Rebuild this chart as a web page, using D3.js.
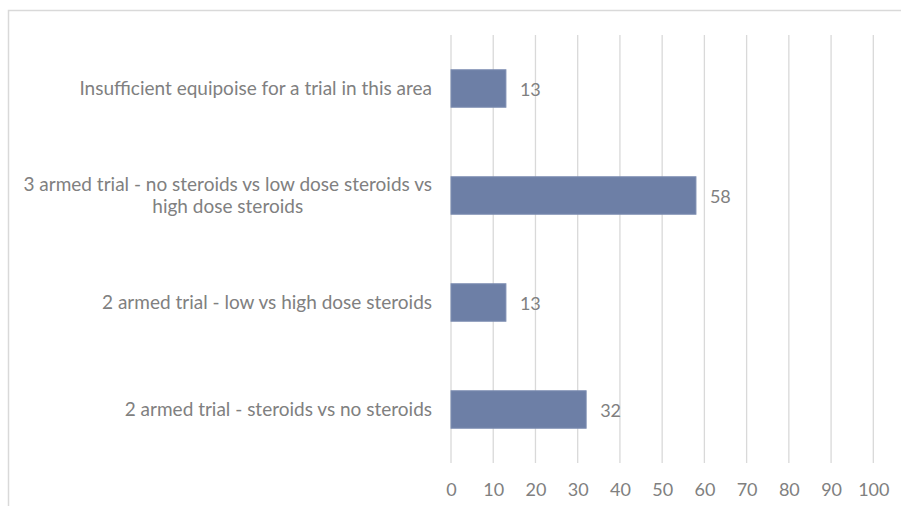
<!DOCTYPE html>
<html>
<head>
<meta charset="utf-8">
<script src="https://cdn.jsdelivr.net/npm/d3@7"></script>
<style>
  body { margin: 0; background: #fff; }
  svg { display: block; }
</style>
</head>
<body>
<svg id="chart" width="901" height="506"></svg>
<script>
    var categories = [
        "Insufficient equipoise for a trial in this area",
        "3 armed trial - no steroids vs low dose steroids vs|high dose steroids",
        "2 armed trial - low vs high dose steroids",
        "2 armed trial - steroids vs no steroids"
    ];
    var values = [13, 58, 13, 32];
    var tickValues = [0, 10, 20, 30, 40, 50, 60, 70, 80, 90, 100];

    var width = 901;
    var height = 506;
    var plotLeft = 451, plotRight = 873.3, plotTop = 35, plotBottom = 463;
    var textColor = "#808080";
    var fontFamily = "Lato, 'Open Sans', sans-serif";

    var svg = d3.select("#chart");

    // outer frame (only top and left edges show)
    svg.append("path")
        .attr("d", "M8.5," + height + "V10.5H" + width)
        .attr("fill", "none")
        .attr("stroke", "#d9d9d9")
        .attr("stroke-width", 1.5);

    var xScale = d3.scaleLinear()
        .domain([0, 100])
        .range([plotLeft, plotRight]);

    var yScale = d3.scaleBand()
        .domain(categories)
        .range([plotTop, plotBottom])
        .paddingInner(0.65)
        .paddingOuter(0.325);

    // vertical gridlines
    svg.append("g")
        .selectAll("line")
        .data(tickValues)
        .enter()
        .append("line")
        .attr("x1", d => xScale(d))
        .attr("x2", d => xScale(d))
        .attr("y1", plotTop)
        .attr("y2", plotBottom)
        .attr("stroke", "#d9d9d9")
        .attr("stroke-width", 1.3);

    // x axis labels
    var xAxis = d3.axisBottom(xScale)
        .tickValues(tickValues)
        .tickSize(0)
        .tickPadding(0);

    var axisG = svg.append("g")
        .attr("transform", "translate(0," + (plotBottom + 20) + ")")
        .call(xAxis);
    axisG.select(".domain").remove();
    axisG.selectAll("text")
        .attr("fill", textColor)
        .attr("font-family", fontFamily)
        .attr("font-size", "18px");

    // bars
    svg.append("g")
        .selectAll("rect")
        .data(values)
        .enter()
        .append("rect")
        .attr("x", xScale(0))
        .attr("y", (d, i) => yScale(categories[i]))
        .attr("width", d => xScale(d) - xScale(0))
        .attr("height", yScale.bandwidth())
        .attr("fill", "#6d7fa6")
        .attr("stroke", "#7c8db1")
        .attr("stroke-width", 1);

    // value labels
    svg.append("g")
        .selectAll("text")
        .data(values)
        .enter()
        .append("text")
        .attr("x", d => xScale(d) + 14)
        .attr("y", (d, i) => yScale(categories[i]) + yScale.bandwidth() / 2 + 1)
        .attr("dy", "0.35em")
        .attr("fill", textColor)
        .attr("font-family", fontFamily)
        .attr("font-size", "18px")
        .text(d => d);

    // category labels, wrapped lines centred on each other
    var labelRight = 432;
    var lineHeight = 22;
    categories.forEach(function (c, i) {
        var lines = c.split("|");
        var cy = yScale(c) + yScale.bandwidth() / 2;
        var g = svg.append("g");
        var texts = lines.map(function (line, k) {
            return g.append("text")
                .attr("y", cy + (k - (lines.length - 1) / 2) * lineHeight)
                .attr("dy", "0.35em")
                .attr("text-anchor", "middle")
                .attr("fill", textColor)
                .attr("font-family", fontFamily)
                .attr("font-size", "19px")
                .text(line);
        });
        var maxW = d3.max(texts, t => t.node().getComputedTextLength());
        texts.forEach(t => t.attr("x", labelRight - maxW / 2));
    });
</script>
</body>
</html>
